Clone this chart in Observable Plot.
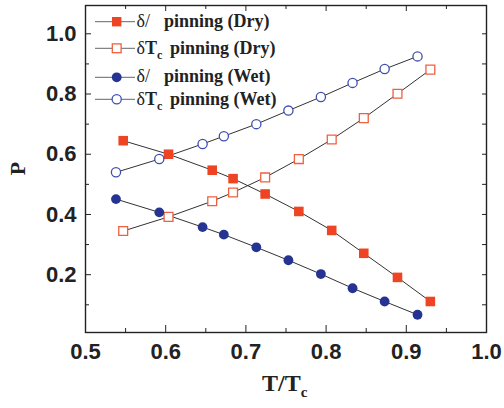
<!DOCTYPE html>
<html><head><meta charset="utf-8">
<script src="https://cdn.jsdelivr.net/npm/d3@7"></script>
<script src="https://cdn.jsdelivr.net/npm/@observablehq/plot@0.6"></script>
<style>
body{margin:0;background:#fff}
#wrap{position:relative;width:504px;height:408px}
</style></head><body><div id="wrap"></div>
<script>
// Data
const dryX  = [0.547, 0.6035, 0.658, 0.684, 0.724, 0.766, 0.807, 0.847, 0.889, 0.930];
const dryL  = [0.645, 0.600, 0.547, 0.519, 0.468, 0.410, 0.347, 0.271, 0.191, 0.111];
const dryTc = [0.345, 0.392, 0.444, 0.473, 0.523, 0.584, 0.649, 0.720, 0.801, 0.881];
const wetX  = [0.538, 0.592, 0.646, 0.6725, 0.713, 0.753, 0.7935, 0.833, 0.873, 0.914];
const wetL  = [0.451, 0.407, 0.358, 0.333, 0.291, 0.248, 0.202, 0.155, 0.111, 0.067];
const wetTc = [0.540, 0.584, 0.634, 0.660, 0.700, 0.745, 0.790, 0.837, 0.883, 0.925];

const xMajor = [0.5, 0.6, 0.7, 0.8, 0.9, 1.0];
const xMinor = [0.55, 0.65, 0.75, 0.85, 0.95];
const yLabeled = [0.2, 0.4, 0.6, 0.8, 1.0];
const yAll = [0.1, 0.2, 0.3, 0.4, 0.5, 0.6, 0.7, 0.8, 0.9, 1.0];
const yMinorLeft = [0.1, 0.3, 0.5, 0.7, 0.9];

const legendLabels = ["δ/", "δT", "δ/", "δT"];
const legendSuffix = ["pinning (Dry)", "pinning (Dry)", "pinning (Wet)", "pinning (Wet)"];

const RED = "#ee4423", RED_OPEN = "#f0603f", BLUE = "#253392", BLUE_OPEN = "#3f4fb0";

const zip = (xs, ys) => xs.map((x, i) => ({x, y: ys[i]}));
const dryLRows = zip(dryX, dryL), dryTcRows = zip(dryX, dryTc);
const wetLRows = zip(wetX, wetL), wetTcRows = zip(wetX, wetTc);

const lineOpts = {x: "x", y: "y", stroke: "#333", strokeWidth: 1};
const tickFont = {fontSize: 22, fontWeight: "bold", fontFamily: "Liberation Sans, Arial, sans-serif", fill: "#222"};

const chart = Plot.plot({
  width: 504, height: 408,
  marginLeft: 85, marginRight: 18, marginTop: 5, marginBottom: 76,
  x: {domain: [0.5, 1.0]},
  y: {domain: [0.008, 1.094]},
  style: {background: "#fff", color: "#222"},
  marks: [
    Plot.line(dryLRows, lineOpts),
    Plot.line(dryTcRows, lineOpts),
    Plot.line(wetLRows, lineOpts),
    Plot.line(wetTcRows, lineOpts),
    Plot.dot(dryLRows, {x: "x", y: "y", symbol: "square", r: 5.4, fill: RED}),
    Plot.dot(dryTcRows, {x: "x", y: "y", symbol: "square", r: 5.0, fill: "#fff", stroke: RED_OPEN, strokeWidth: 1.3}),
    Plot.dot(wetLRows, {x: "x", y: "y", r: 4.9, fill: BLUE}),
    Plot.dot(wetTcRows, {x: "x", y: "y", r: 4.6, fill: "#fff", stroke: BLUE_OPEN, strokeWidth: 1.3}),
    // inward ticks
    Plot.axisX({anchor: "bottom", ticks: xMajor, tickSize: -7, text: null, label: null, stroke: "#222"}),
    Plot.axisX({anchor: "bottom", ticks: xMinor, tickSize: -4, text: null, label: null, stroke: "#222"}),
    Plot.axisX({anchor: "top", ticks: xMajor, tickSize: -5, text: null, label: null, stroke: "#222"}),
    Plot.axisX({anchor: "top", ticks: xMinor, tickSize: -3, text: null, label: null, stroke: "#222"}),
    Plot.axisY({anchor: "left", ticks: yLabeled, tickSize: -6, text: null, label: null, stroke: "#222"}),
    Plot.axisY({anchor: "left", ticks: yMinorLeft, tickSize: -4, text: null, label: null, stroke: "#222"}),
    Plot.axisY({anchor: "right", ticks: yAll, tickSize: -5, text: null, label: null, stroke: "#222"}),
    // tick labels
    Plot.axisX({anchor: "bottom", ticks: xMajor, tickSize: 0, tickPadding: 11, tickFormat: d3.format(".1f"), label: null, ...tickFont}),
    Plot.axisY({anchor: "left", ticks: yLabeled, tickSize: 0, tickPadding: 9, tickFormat: d3.format(".1f"), label: null, ...tickFont}),
    Plot.frame({stroke: "#222", strokeWidth: 1.4})
  ]
});

document.getElementById("wrap").appendChild(chart);

// Axis titles and in-plot legend, added to the Plot SVG
const svg = d3.select(chart);
const serif = "Liberation Serif, Times New Roman, serif";

svg.append("text")
  .attr("transform", "translate(25,168.5) rotate(-90)")
  .attr("text-anchor", "middle")
  .attr("font-family", serif).attr("font-weight", "bold").attr("font-size", 22).attr("fill", "#222")
  .text("P");

const xt = svg.append("text")
  .attr("x", 262).attr("y", 391).attr("text-anchor", "start")
  .attr("font-family", serif).attr("font-weight", "bold").attr("font-size", 24).attr("fill", "#222");
xt.append("tspan").text("T/T");
xt.append("tspan").attr("font-size", 15).attr("dy", 6).text("c");

const rowMarkerY = [21.7, 48.3, 77.3, 99.3];
const rowBaseY = [26.7, 54, 82, 104.5];
const legendStyles = [
  {symbol: "square", fill: RED, stroke: "none", size: 9.4},
  {symbol: "square", fill: "#fff", stroke: RED_OPEN, size: 8.8},
  {symbol: "circle", fill: BLUE, stroke: "none", size: 9.8},
  {symbol: "circle", fill: "#fff", stroke: BLUE_OPEN, size: 9.2}
];
const lg = svg.append("g").attr("text-anchor", "start");
legendStyles.forEach((s, i) => {
  const cy = rowMarkerY[i];
  lg.append("line").attr("x1", 95).attr("x2", 135).attr("y1", cy).attr("y2", cy)
    .attr("stroke", "#666").attr("stroke-width", 1);
  if (s.symbol === "square") {
    lg.append("rect").attr("x", 116.7 - s.size / 2).attr("y", cy - s.size / 2)
      .attr("width", s.size).attr("height", s.size)
      .attr("fill", s.fill).attr("stroke", s.stroke).attr("stroke-width", 1.3);
  } else {
    lg.append("circle").attr("cx", 116.7).attr("cy", cy).attr("r", s.size / 2)
      .attr("fill", s.fill).attr("stroke", s.stroke).attr("stroke-width", 1.3);
  }
  const base = () => lg.append("text").attr("y", rowBaseY[i]).attr("text-anchor", "start")
    .attr("font-family", serif).attr("font-size", 18).attr("fill", "#222");
  if (legendLabels[i] === "δT") {
    const t = base().attr("x", 136.5);
    t.append("tspan").text("δ");
    t.append("tspan").attr("font-weight", "bold").text("T");
    t.append("tspan").attr("font-weight", "bold").attr("font-size", 12).attr("dy", 5).text("c");
    base().attr("x", 170).attr("font-weight", "bold").text(legendSuffix[i]);
  } else {
    base().attr("x", 136.5).text(legendLabels[i]);
    base().attr("x", 164).attr("font-weight", "bold").text(legendSuffix[i]);
  }
});
</script>
</body></html>
